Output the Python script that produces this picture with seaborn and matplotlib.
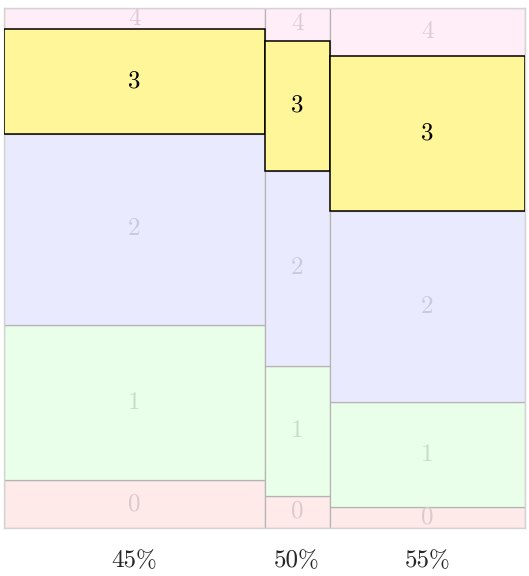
import numpy as np
import matplotlib
matplotlib.use("Agg")
import matplotlib.pyplot as plt
import seaborn as sns

# Mosaic of outcome shares (0-4) for three success rates
rates = ["45%", "50%", "55%"]
col_widths = [0.5, 0.125, 0.375]
outcomes = ["0", "1", "2", "3", "4"]
shares_45 = [0.0915, 0.2995, 0.3675, 0.2005, 0.0410]
shares_50 = [0.0625, 0.2500, 0.3750, 0.2500, 0.0625]
shares_55 = [0.0410, 0.2005, 0.3675, 0.2995, 0.0915]
highlight = "3"

fills = ["#ffeaea", "#eaffea", "#eaeaff", "#fff599", "#ffeef8"]
label_colors = ["#dccaca", "#c8dcc8", "#cacadc", "#000000", "#dccad6"]

sns.set_theme(style="white")
plt.rcParams["font.family"] = ["cmr10", "DejaVu Serif"]
plt.rcParams["axes.formatter.use_mathtext"] = True

fig = plt.figure(figsize=(5.29, 5.76), dpi=100)
ax = fig.add_axes([4 / 529, 48 / 576, 521 / 529, 520 / 576])

columns = [shares_45, shares_50, shares_55]
lefts = np.concatenate([[0], np.cumsum(col_widths)[:-1]])

for left, width, shares in zip(lefts, col_widths, columns):
    bottoms = np.concatenate([[0], np.cumsum(shares)[:-1]])
    for k, (name, h, b) in enumerate(zip(outcomes, shares, bottoms)):
        hi = name == highlight
        ax.bar(left, h, width=width, bottom=b, align="edge",
               color=fills[k], edgecolor="black" if hi else "#b4b4b4",
               linewidth=1.1 if hi else 0.9, zorder=3 if hi else 2)
        ax.text(left + width / 2, b + h / 2, name, ha="center", va="center",
                fontsize=18, color=label_colors[k], zorder=4)

ax.set_xlim(0, 1)
ax.set_ylim(0, 1)
ax.set_yticks([])
ax.set_xticks(lefts + np.array(col_widths) / 2)
ax.set_xticklabels(rates, fontsize=18)
ax.tick_params(axis="x", length=0, pad=16)
for sp in ax.spines.values():
    sp.set_color("#d4d4d4")
    sp.set_linewidth(1.0)

fig.savefig("out.png", dpi=100)
